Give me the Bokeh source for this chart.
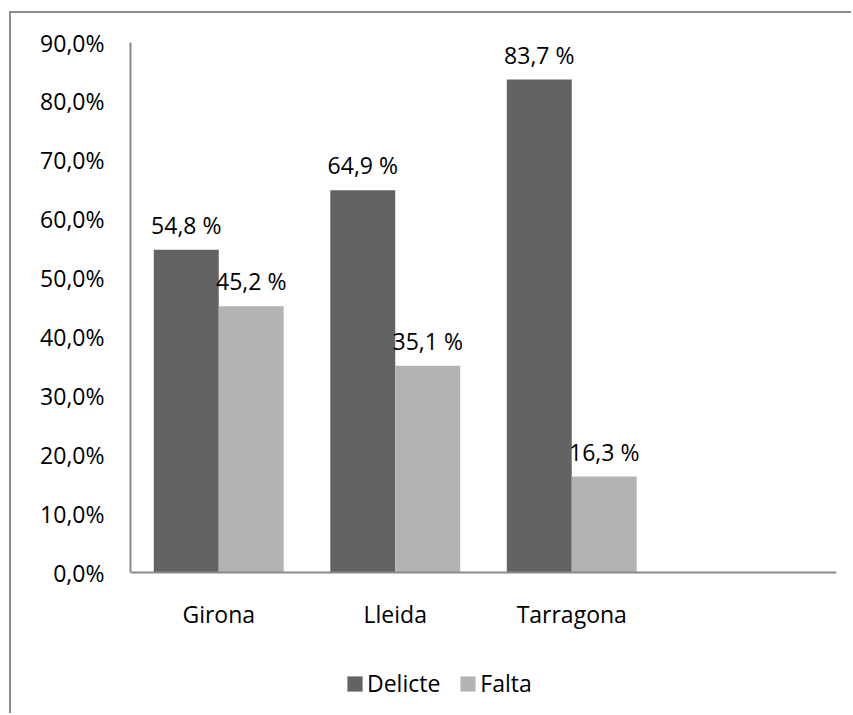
from bokeh.plotting import figure
from bokeh.models import (ColumnDataSource, FactorRange, Range1d, FixedTicker,
                          Legend, LegendItem)
from bokeh.transform import dodge
from bokeh.core.properties import value
from bokeh.embed import file_html
from bokeh.resources import INLINE

# ---- data ----
categories = ["Girona", "Lleida", "Tarragona"]
empty_slot = [" "]
delicte = [54.8, 64.9, 83.7]
falta = [45.2, 35.1, 16.3]
y_ticks = [0, 10, 20, 30, 40, 50, 60, 70, 80, 90]
y_tick_labels = ["0,0%", "10,0%", "20,0%", "30,0%", "40,0%", "50,0%",
                 "60,0%", "70,0%", "80,0%", "90,0%"]
series_names = ["Delicte", "Falta"]

FONT = "Open Sans"
FS = "23px"
DARK = "#636363"
LIGHT = "#b3b3b3"
AXIS = "#8a8a8a"

# layout (pixels)
CANVAS_W, CANVAS_H = 842, 702
BORDER_L, BORDER_R, BORDER_T = 119, 17, 29
PLOT_H = 530          # pixels between 0 % and 90 %
Y_MAX = 90
y_min = -(CANVAS_H - BORDER_T - PLOT_H) * Y_MAX / PLOT_H   # room under the axis

def fmt(v):
    return f"{v:.1f}".replace(".", ",") + " %"

src = ColumnDataSource(dict(
    cat=categories,
    delicte=delicte,
    falta=falta,
    dl=[fmt(v) for v in delicte],
    fl=[fmt(v) for v in falta],
))

p = figure(
    width=CANVAS_W, height=CANVAS_H,
    x_range=FactorRange(factors=categories + empty_slot, range_padding=0,
                        factor_padding=0),
    y_range=Range1d(y_min, Y_MAX),
    output_backend="svg", toolbar_location=None, title=None,
    min_border_left=BORDER_L, min_border_right=BORDER_R,
    min_border_top=BORDER_T, min_border_bottom=0,
)
p.styles = {
    "margin-left": "9px", "margin-top": "11px",
    "border-left": "2px solid #8c8c8c", "border-top": "2px solid #8c8c8c",
}
p.outline_line_color = None
p.background_fill_color = "white"
p.border_fill_color = "white"
p.xgrid.grid_line_color = None
p.ygrid.grid_line_color = None

W = 0.368
OFF = 0.184
r1 = p.vbar(x=dodge("cat", -OFF, range=p.x_range), top="delicte", width=W,
            source=src, fill_color=DARK, line_color=None)
r2 = p.vbar(x=dodge("cat", OFF, range=p.x_range), top="falta", width=W,
            source=src, fill_color=LIGHT, line_color=None)

p.text(x=dodge("cat", -OFF, range=p.x_range), y="delicte", text="dl",
       source=src, text_align="center", text_baseline="alphabetic",
       y_offset=-25, text_font=value(FONT), text_font_size=FS,
       text_color="black")
p.text(x=dodge("cat", OFF, range=p.x_range), y="falta", text="fl",
       source=src, text_align="center", text_baseline="alphabetic",
       y_offset=-25, text_font=value(FONT), text_font_size=FS,
       text_color="black")

# axes
p.xaxis.fixed_location = 0
p.yaxis.bounds = (0, Y_MAX)
p.yaxis.ticker = FixedTicker(ticks=y_ticks)
p.yaxis.major_label_overrides = {t: l for t, l in zip(y_ticks, y_tick_labels)}
for ax in (p.xaxis[0], p.yaxis[0]):
    ax.axis_line_color = AXIS
    ax.axis_line_width = 2
    ax.major_tick_line_color = None
    ax.minor_tick_line_color = None
    ax.major_label_text_font = FONT
    ax.major_label_text_font_size = FS
    ax.major_label_text_color = "black"
p.yaxis.major_label_standoff = 20
p.xaxis.major_label_standoff = 19

legend = Legend(
    items=[LegendItem(label=series_names[0], renderers=[r1]),
           LegendItem(label=series_names[1], renderers=[r2])],
    orientation="horizontal",
    location=(215, 16),
    glyph_width=19, glyph_height=19,
    label_standoff=3, spacing=18,
    padding=0, margin=0,
    border_line_color=None, background_fill_alpha=0,
    label_text_font=FONT, label_text_font_size=FS,
    label_text_color="black",
)
p.add_layout(legend, "center")

open("out.html", "w").write(file_html(p, INLINE))
